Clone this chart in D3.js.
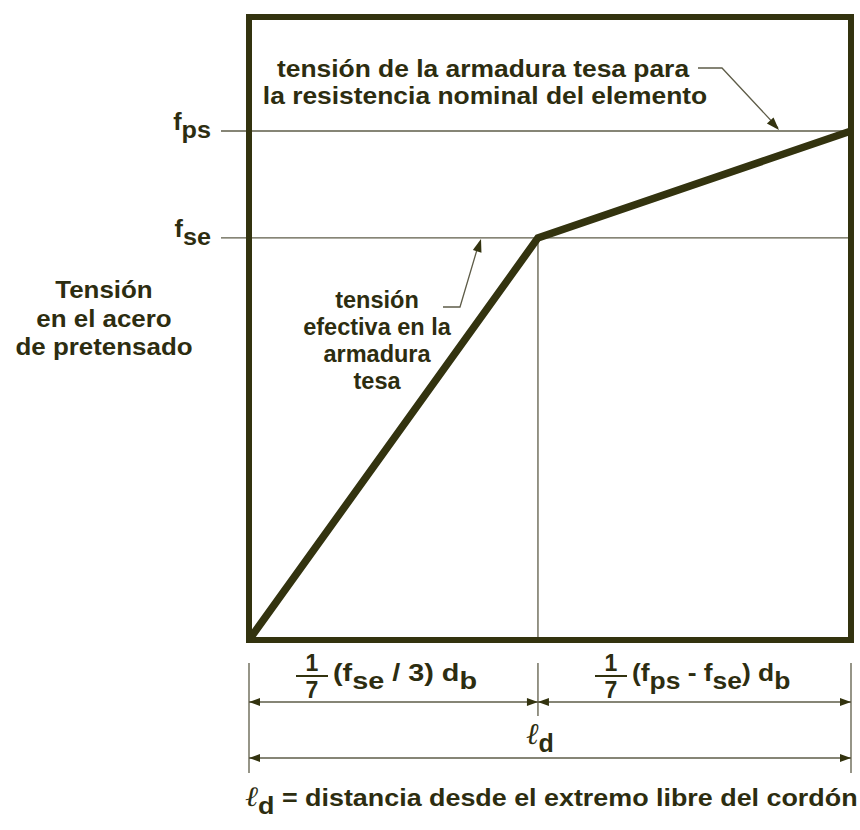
<!DOCTYPE html>
<html>
<head>
<meta charset="utf-8">
<script src="https://cdn.jsdelivr.net/npm/d3@7"></script>
<style>
  body { margin: 0; background: #fff; }
  text { font-family: "Liberation Sans", Arial, sans-serif; font-weight: bold; fill: #2d2d10; }
</style>
</head>
<body>
<svg id="chart" width="860" height="830"></svg>
<script>
// Position along the development length (fraction of l_d) and steel stress (fraction of fps)
const xPoints = [0, 0.48, 1];
const stressPoints = [0, 0.79, 1];
const stressTop = 1.224;

// stress levels marked on the left
const levelNames = ["f", "f"];
const levelSubs = ["ps", "se"];
const levelValues = [1, 0.79];

// dimension rows under the chart
const dimFrom = [0, 0.48, 0];
const dimTo = [0.48, 1, 1];
const dimRow = [0, 0, 1];

const svg = d3.select("#chart");
const dark = "#33330f";
const thin = "#5e5c48";

const x = d3.scaleLinear().domain([0, 1]).range([249, 851]);
const y = d3.scaleLinear().domain([0, stressTop]).range([640, 17]);

// helper for text with subscripts: parts = [[text, isSub], ...]
// sx stretches the glyphs horizontally (the original lettering is a bit wide)
function richText(g, px, py, parts, anchor, size, sx) {
    const t = g.append("text")
        .attr("x", 0).attr("y", 0)
        .attr("transform", "translate(" + px + "," + py + ") scale(" + (sx || 1) + ",1)")
        .attr("text-anchor", anchor || "start")
        .style("font-size", (size || 23) + "px");
    let sub = false;
    parts.forEach(function(p) {
        const span = t.append("tspan").text(p[0]);
        if (p[1] && !sub) { span.attr("dy", 8); sub = true; }
        else if (!p[1] && sub) { span.attr("dy", -8); sub = false; }
    });
    return t;
}

function arrowHead(g, tip, from, len, half) {
    const dx = tip[0] - from[0], dy = tip[1] - from[1];
    const d = Math.sqrt(dx * dx + dy * dy);
    const ux = dx / d, uy = dy / d;
    const bx = tip[0] - ux * len, by = tip[1] - uy * len;
    g.append("path")
        .attr("d", "M" + tip[0] + "," + tip[1] +
            "L" + (bx - uy * half) + "," + (by + ux * half) +
            "L" + (bx + uy * half) + "," + (by - ux * half) + "Z")
        .attr("fill", dark);
}

// stress level lines and labels
levelValues.forEach(function(v, i) {
    svg.append("line")
        .attr("x1", 221).attr("x2", x(1))
        .attr("y1", y(v)).attr("y2", y(v))
        .attr("stroke", thin).attr("stroke-width", 1.3);
    richText(svg, 211, y(v) - 1, [[levelNames[i], false], [levelSubs[i], true]], "end", 24, 1.05);
});

// vertical line at the kink
svg.append("line")
    .attr("x1", x(xPoints[1])).attr("x2", x(xPoints[1]))
    .attr("y1", y(stressPoints[1])).attr("y2", y(0))
    .attr("stroke", thin).attr("stroke-width", 1.3);

// stress curve
const line = d3.line()
    .x(function(d, i) { return x(xPoints[i]); })
    .y(function(d) { return y(d); });
svg.append("path")
    .datum(stressPoints)
    .attr("d", line)
    .attr("fill", "none")
    .attr("stroke", dark)
    .attr("stroke-width", 7.5)
    .attr("stroke-linejoin", "miter");

// frame
svg.append("rect")
    .attr("x", x(0)).attr("y", y(stressTop))
    .attr("width", x(1) - x(0)).attr("height", y(0) - y(stressTop))
    .attr("fill", "none")
    .attr("stroke", dark)
    .attr("stroke-width", 6);

// y axis title
["Tensión", "en el acero", "de pretensado"].forEach(function(s, i) {
    richText(svg, 104, 298 + i * 28.5, [[s, false]], "middle", 24, 1.08);
});

// top annotation
richText(svg, 483, 77, [["tensión de la armadura tesa para", false]], "middle", 24, 1.1);
richText(svg, 485, 104, [["la resistencia nominal del elemento", false]], "middle", 24, 1.1);
svg.append("path")
    .attr("d", "M698,68 L722,68 L778,128")
    .attr("fill", "none").attr("stroke", thin).attr("stroke-width", 1.3);
arrowHead(svg, [779, 130], [722, 68], 13, 4.5);

// middle annotation
["tensión", "efectiva en la", "armadura", "tesa"].forEach(function(s, i) {
    richText(svg, 377, 308 + i * 27, [[s, false]], "middle", 24, 0.98);
});
svg.append("path")
    .attr("d", "M443,307 L460,307 L479,243")
    .attr("fill", "none").attr("stroke", thin).attr("stroke-width", 1.3);
arrowHead(svg, [481, 239], [460, 307], 13, 4.5);

// extension lines
[0, 1].forEach(function(v) {
    svg.append("line")
        .attr("x1", x(v)).attr("x2", x(v))
        .attr("y1", 663).attr("y2", 773)
        .attr("stroke", thin).attr("stroke-width", 1.3);
});
svg.append("line")
    .attr("x1", x(xPoints[1])).attr("x2", x(xPoints[1]))
    .attr("y1", 663).attr("y2", 716)
    .attr("stroke", thin).attr("stroke-width", 1.3);

// dimension lines
const rowY = [702, 758];
dimFrom.forEach(function(f, i) {
    const yy = rowY[dimRow[i]];
    svg.append("line")
        .attr("x1", x(f)).attr("x2", x(dimTo[i]))
        .attr("y1", yy).attr("y2", yy)
        .attr("stroke", thin).attr("stroke-width", 1.3);
    arrowHead(svg, [x(f), yy], [x(dimTo[i]), yy], 11, 4);
    arrowHead(svg, [x(dimTo[i]), yy], [x(f), yy], 11, 4);
});

// dimension labels: 1/7 fractions
function fraction(cx) {
    svg.append("text").attr("x", cx).attr("y", 671).attr("text-anchor", "middle")
        .style("font-size", "23px").text("1");
    svg.append("line").attr("x1", cx - 16).attr("x2", cx + 16)
        .attr("y1", 676).attr("y2", 676)
        .attr("stroke", dark).attr("stroke-width", 2);
    svg.append("text").attr("x", cx).attr("y", 698).attr("text-anchor", "middle")
        .style("font-size", "23px").text("7");
}
fraction(312);
richText(svg, 333, 681, [["(f", false], ["se", true], [" / 3) d", false], ["b", true]], "start", 24, 1.2);
fraction(611);
richText(svg, 632, 681, [["(f", false], ["ps", true], [" - f", false], ["se", true], [") d", false], ["b", true]], "start", 24, 1.1);

// l_d label
const ldLabel = svg.append("text").attr("x", 540).attr("y", 744).attr("text-anchor", "middle")
    .style("font-size", "30px");
ldLabel.append("tspan").text("ℓ").style("font-family", "DejaVu Serif").style("font-style", "italic").style("font-weight", "normal");
ldLabel.append("tspan").text("d").attr("dy", 8).style("font-size", "25px");

// caption
const cap = svg.append("text")
    .attr("transform", "translate(245,806) scale(1.12,1)")
    .style("font-size", "24px");
cap.append("tspan").text("ℓ").style("font-family", "DejaVu Serif").style("font-style", "italic").style("font-weight", "normal").style("font-size", "28px");
cap.append("tspan").text("d").attr("dy", 8);
cap.append("tspan").text(" = distancia desde el extremo libre del cordón").attr("dy", -8);
</script>
</body>
</html>
